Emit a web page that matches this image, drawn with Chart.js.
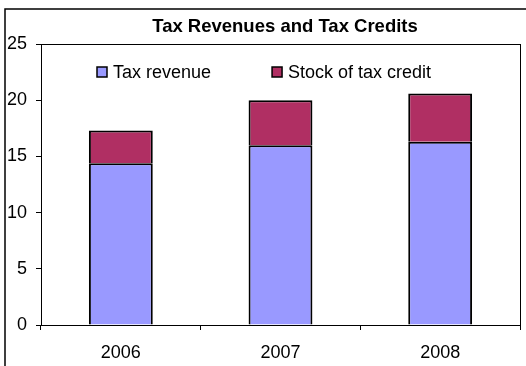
<!DOCTYPE html>
<html>
<head>
<meta charset="utf-8">
<script src="https://cdn.jsdelivr.net/npm/chart.js@4"></script>
<style>
  html, body { margin: 0; padding: 0; background: #fff; }
  #wrap { width: 526px; height: 366px; }
</style>
</head>
<body>
<div id="wrap"><canvas id="taxChart" width="526" height="366"></canvas></div>
<script>
const years = ['2006', '2007', '2008'];
const taxRevenue = [14.4, 16.0, 16.3];
const taxCreditStock = [2.9, 4.0, 4.3];
const yTicks = [0, 5, 10, 15, 20, 25];

const chartTitle = 'Tax Revenues and Tax Credits';
const FONT = '"Liberation Sans", Arial, sans-serif';

// outer frame, title and the in-plot legend
const decorPlugin = {
    id: 'decor',
    afterDraw(chart) {
        const ctx = chart.ctx;
        const area = chart.chartArea;
        ctx.save();

        // frame around the whole chart (runs off the right/bottom edges)
        ctx.strokeStyle = '#000';
        ctx.lineWidth = 1.5;
        ctx.beginPath();
        ctx.moveTo(5, 366);
        ctx.lineTo(5, 9);
        ctx.lineTo(526, 9);
        ctx.stroke();

        // plot area box
        ctx.lineWidth = 1;
        ctx.strokeRect(Math.round(area.left) + 0.5, Math.round(area.top) + 0.5,
            Math.round(area.right - area.left), Math.round(area.bottom - area.top));

        // title
        ctx.fillStyle = '#000';
        ctx.font = 'bold 18.5px ' + FONT;
        ctx.textAlign = 'center';
        ctx.textBaseline = 'middle';
        ctx.fillText(chartTitle, 285, 27);

        // legend
        ctx.font = '18px ' + FONT;
        ctx.textAlign = 'left';
        let x = 97;
        const y = 72;
        chart.data.datasets.forEach(ds => {
            ctx.fillStyle = ds.backgroundColor;
            ctx.fillRect(x, y - 5, 10, 10);
            ctx.strokeStyle = '#000';
            ctx.lineWidth = 1.5;
            ctx.strokeRect(x, y - 5, 10, 10);
            ctx.fillStyle = '#000';
            ctx.fillText(ds.label, x + 16, y + 1);
            x += 16 + ctx.measureText(ds.label).width + 61;
        });
        ctx.restore();
    }
};

new Chart(document.getElementById('taxChart'), {
    type: 'bar',
    data: {
        labels: years,
        datasets: [
            {
                label: 'Tax revenue',
                data: taxRevenue,
                backgroundColor: '#9999FF',
                borderColor: '#000',
                borderWidth: { top: 2, left: 2, right: 2, bottom: 0 },
                borderSkipped: false
            },
            {
                label: 'Stock of tax credit',
                data: taxCreditStock,
                backgroundColor: '#B02F63',
                borderColor: '#000',
                borderWidth: { top: 2, left: 2, right: 2, bottom: 0 },
                borderSkipped: false
            }
        ]
    },
    options: {
        responsive: false,
        animation: false,
        layout: { padding: { top: 44, right: 6, left: 0, bottom: 0 } },
        datasets: { bar: { categoryPercentage: 1, barPercentage: 0.4 } },
        plugins: {
            legend: { display: false },
            title: { display: false },
            tooltip: { enabled: false }
        },
        scales: {
            x: {
                stacked: true,
                offset: true,
                grid: { offset: true, drawOnChartArea: false, tickLength: 5, color: '#000' },
                border: { display: true, color: '#000' },
                ticks: { color: '#000', font: { family: FONT, size: 18 }, padding: 12 },
                afterFit(scale) { scale.height = 41; }
            },
            y: {
                stacked: true,
                min: yTicks[0],
                max: yTicks[yTicks.length - 1],
                afterBuildTicks(scale) { scale.ticks = yTicks.map(v => ({ value: v })); },
                grid: { drawOnChartArea: false, tickLength: 5, color: '#000' },
                border: { display: true, color: '#000' },
                ticks: { color: '#000', font: { family: FONT, size: 18 }, padding: 9 },
                afterFit(scale) { scale.width = 41; }
            }
        }
    },
    plugins: [decorPlugin]
});
</script>
</body>
</html>
